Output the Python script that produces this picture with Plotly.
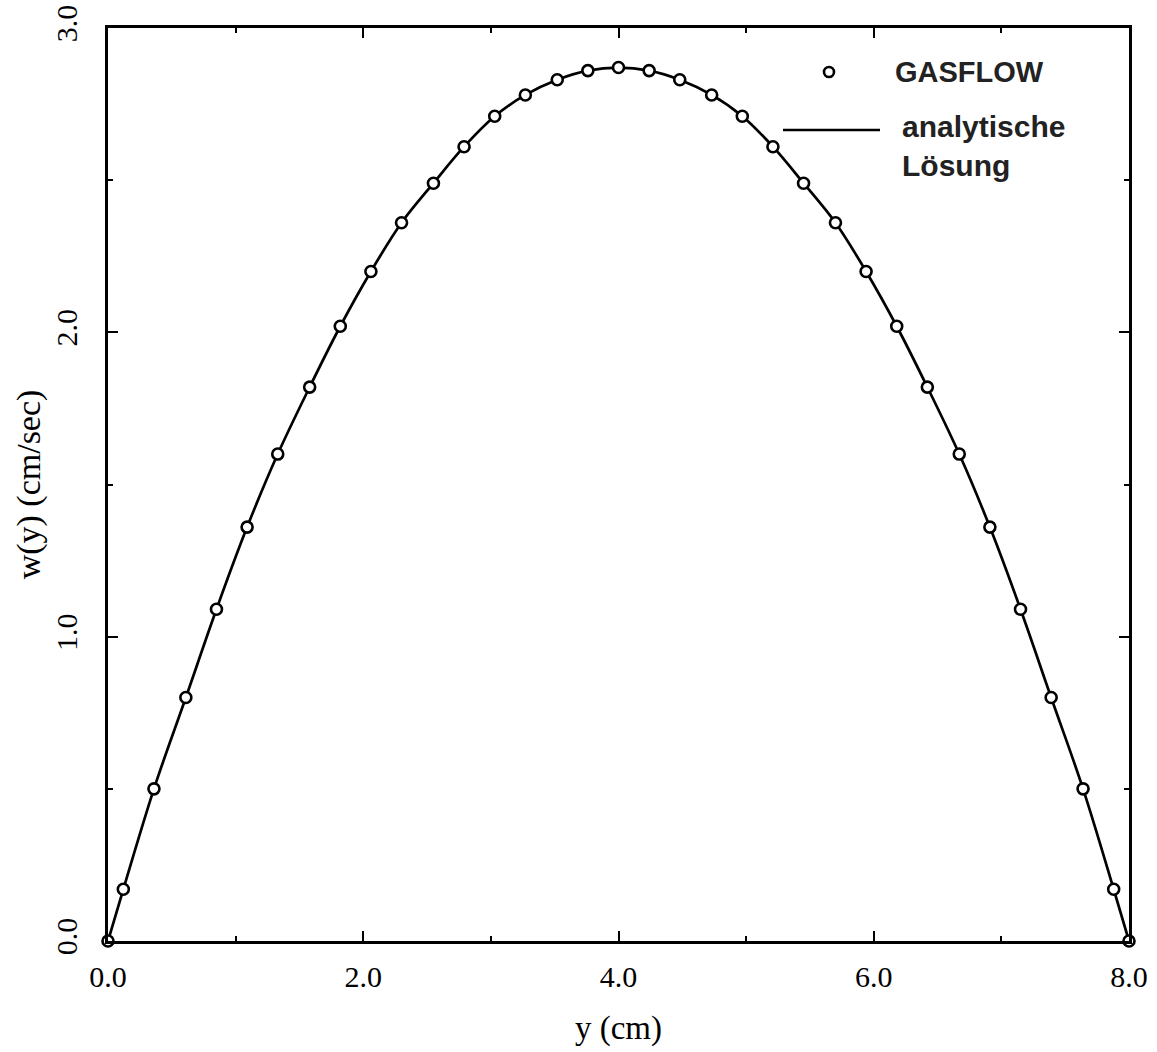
import plotly.graph_objects as go

# Data
y_cm = [0.0, 0.12, 0.36, 0.61, 0.85, 1.09, 1.33, 1.58, 1.82, 2.06, 2.30, 2.55,
        2.79, 3.03, 3.27, 3.52, 3.76, 4.00, 4.24, 4.48, 4.73, 4.97, 5.21, 5.45,
        5.70, 5.94, 6.18, 6.42, 6.67, 6.91, 7.15, 7.39, 7.64, 7.88, 8.0]
w_gasflow = [0.0, 0.17, 0.50, 0.80, 1.09, 1.36, 1.60, 1.82, 2.02, 2.20, 2.36, 2.49,
             2.61, 2.71, 2.78, 2.83, 2.86, 2.87, 2.86, 2.83, 2.78, 2.71, 2.61, 2.49,
             2.36, 2.20, 2.02, 1.82, 1.60, 1.36, 1.09, 0.80, 0.50, 0.17, 0.0]
w_analytic = w_gasflow

x_ticks = [0, 2, 4, 6, 8]
x_tick_labels = ["0.0", "2.0", "4.0", "6.0", "8.0"]
y_ticks = [0, 1, 2, 3]
y_tick_labels = ["0.0", "1.0", "2.0", "3.0"]

serif = "Liberation Serif, Times New Roman, serif"
sans = "Liberation Sans, Arial, sans-serif"

fig = go.Figure()
fig.add_trace(go.Scatter(x=y_cm, y=w_analytic, mode="lines", line=dict(color="black", width=2.7, shape="spline"),
                         showlegend=False, cliponaxis=False, hoverinfo="skip"))
fig.add_trace(go.Scatter(x=y_cm, y=w_gasflow, mode="markers",
                         marker=dict(symbol="circle", size=11, color="white", line=dict(color="black", width=2.6)),
                         showlegend=False, cliponaxis=False))

L, R, T, B = 108, 28, 28, 111
W, H = 1157, 1052
pw, ph = W - L - R, H - T - B

def px(xp):
    return (xp - L) / pw

def py(yp):
    return (H - B - yp) / ph

axis_common = dict(showgrid=False, zeroline=False, showline=True, linecolor="black", linewidth=3,
                   mirror="allticks", ticks="inside", ticklen=10, tickwidth=2, tickcolor="black",
                   tickfont=dict(family=serif, size=30, color="black"))

fig.update_xaxes(range=[0, 8], tickmode="array", tickvals=x_ticks, ticktext=x_tick_labels,
                 minor=dict(ticks="inside", ticklen=5, tickwidth=2, tickcolor="black", dtick=1, tick0=0),
                 title=dict(text="y (cm)", font=dict(family=serif, size=33, color="black"), standoff=24),
                 ticklabelstandoff=7, **axis_common)
fig.update_yaxes(range=[0, 3], tickmode="array", tickvals=y_ticks, ticktext=y_tick_labels, tickangle=-90,
                 minor=dict(ticks="inside", ticklen=5, tickwidth=2, tickcolor="black", dtick=0.5, tick0=0),
                 title=dict(text="w(y) (cm/sec)", font=dict(family=serif, size=34, color="black"), standoff=0),
                 ticklabelstandoff=16, **axis_common)

# Legend drawn manually
fig.add_shape(type="circle", xref="paper", yref="paper", xsizemode="pixel", ysizemode="pixel",
              xanchor=px(829), yanchor=py(72), x0=-5, x1=5, y0=-5, y1=5,
              line=dict(color="black", width=2.6), fillcolor="white")
fig.add_shape(type="line", xref="paper", yref="paper", x0=px(783), x1=px(880), y0=py(130), y1=py(130),
              line=dict(color="black", width=2.7))
fig.add_annotation(xref="paper", yref="paper", x=px(893), y=py(72), xanchor="left", yanchor="middle",
                   text="<b>GASFLOW</b>", showarrow=False, font=dict(family=sans, size=29, color="#222"))
fig.add_annotation(xref="paper", yref="paper", x=px(900), y=py(146), xanchor="left", yanchor="middle",
                   align="left", text="<b>analytische<br>Lösung</b>", showarrow=False,
                   font=dict(family=sans, size=30, color="#222"))

fig.update_layout(width=W, height=H, margin=dict(l=L, r=R, t=T, b=B, autoexpand=False),
                  plot_bgcolor="white", paper_bgcolor="white")

fig.write_html("out.html")
